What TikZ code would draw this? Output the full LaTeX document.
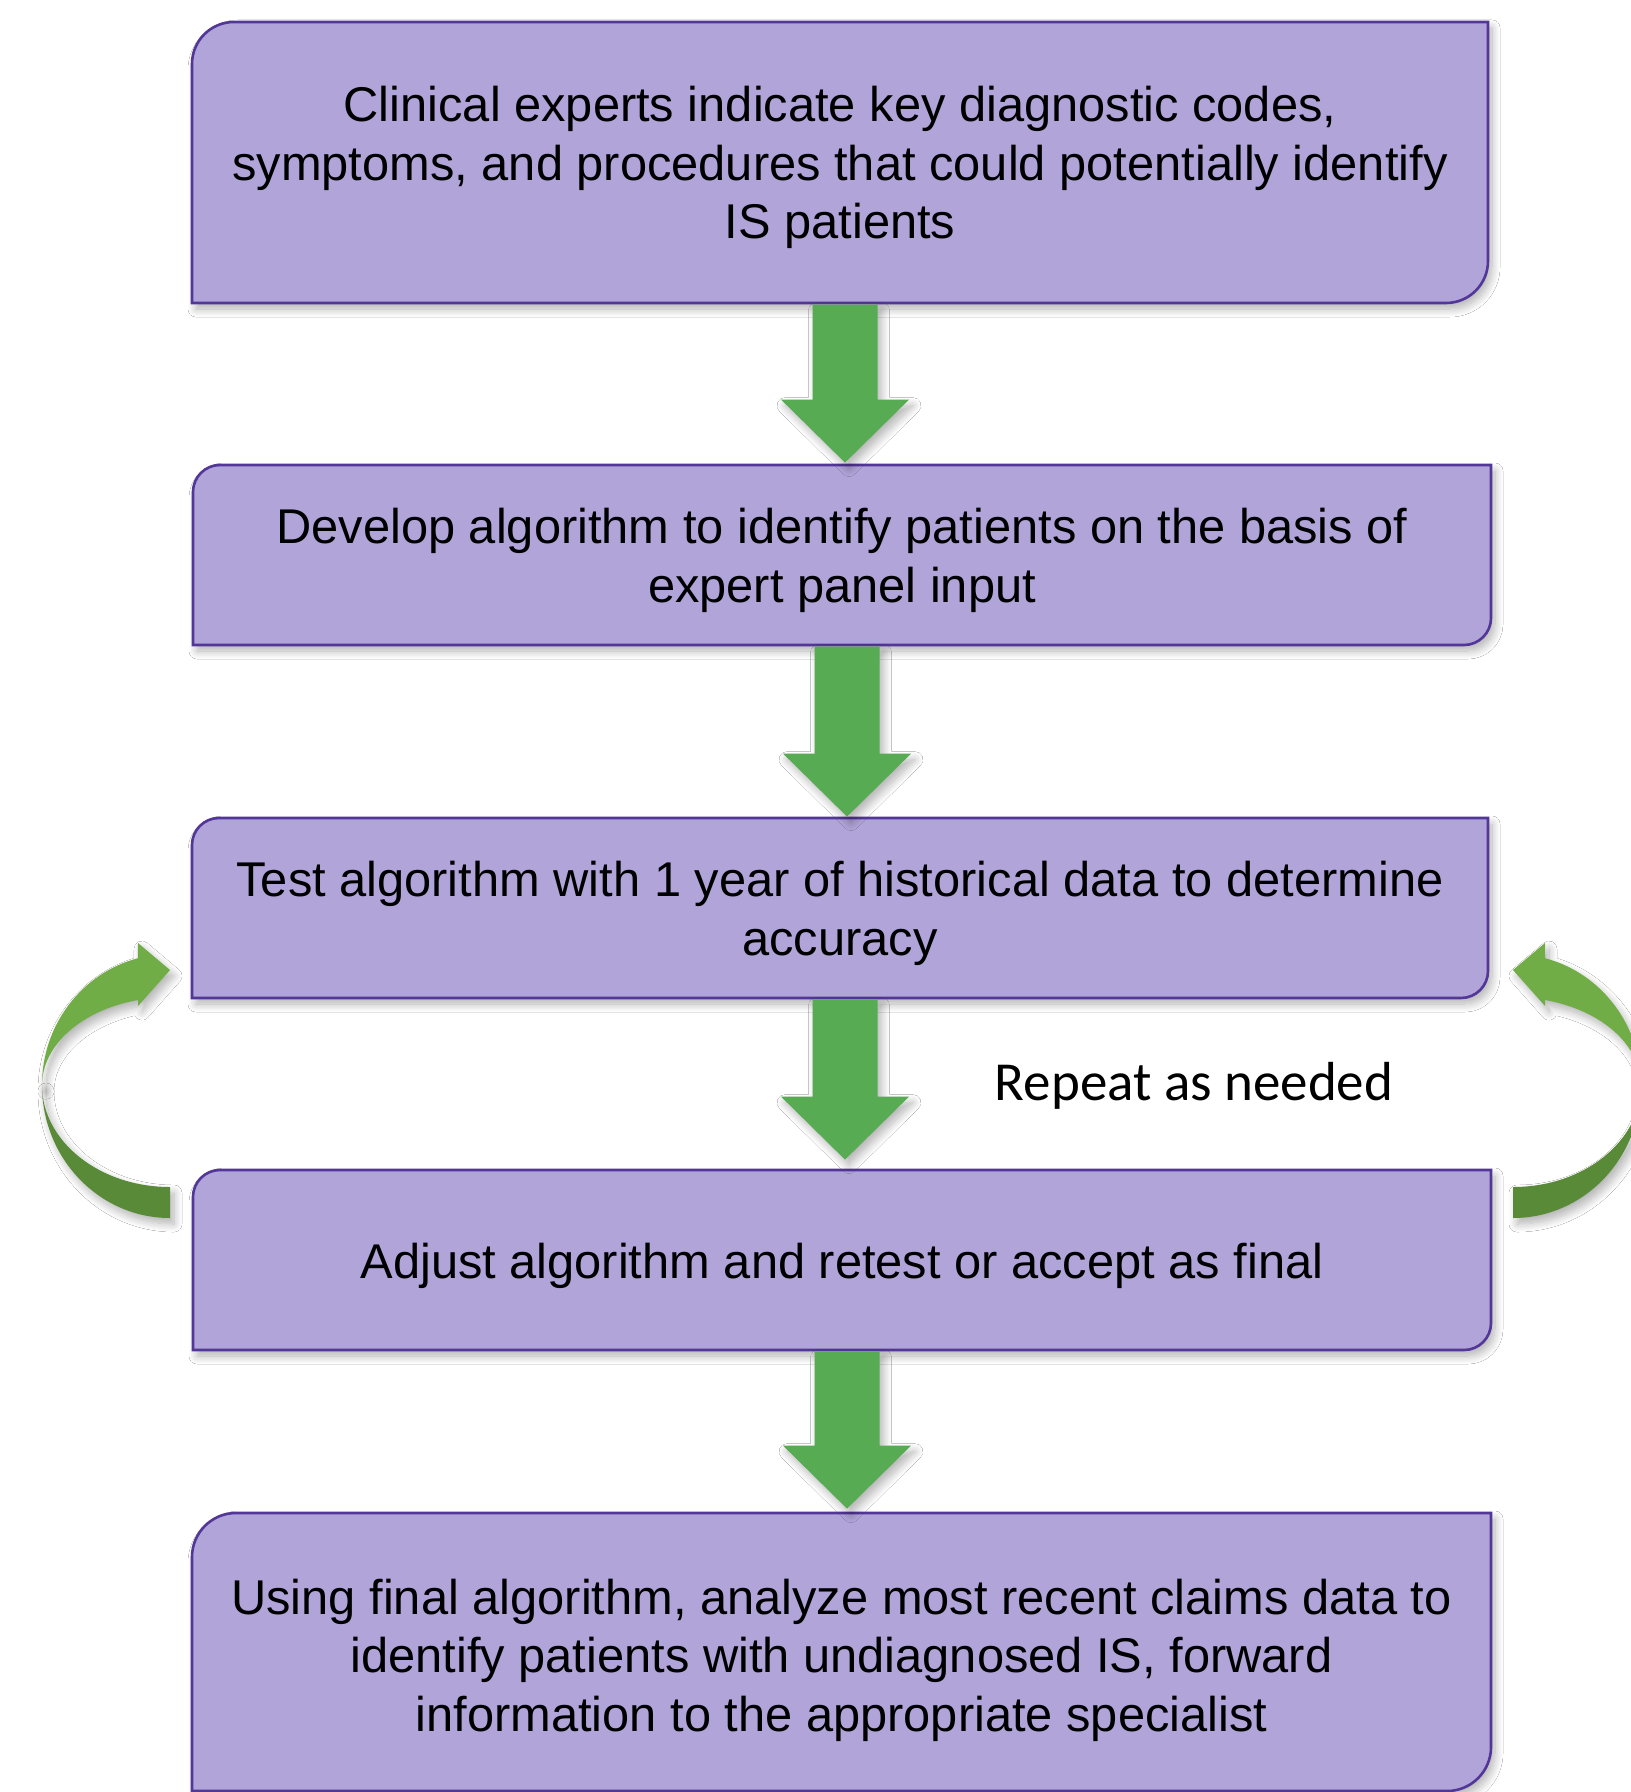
\documentclass[tikz,border=0pt]{standalone}
\usepackage{fontspec}
\setmainfont{Liberation Sans}
\newfontfamily\calibfont{Carlito}
\usetikzlibrary{calc,shadows.blur}
\definecolor{boxfill}{RGB}{177,164,217}
\definecolor{boxline}{RGB}{83,55,152}
\definecolor{arrowgreen}{RGB}{87,171,83}
\definecolor{curvelight}{RGB}{112,173,71}
\definecolor{curvedark}{RGB}{88,138,56}
\tikzset{
  softshadow/.style={blur shadow={shadow xshift=2pt, shadow yshift=-3pt, shadow blur radius=4pt, shadow blur steps=12, shadow opacity=30}},
  boxshape/.style={fill=boxfill, draw=boxline, line width=1.3pt, softshadow},
  boxholder/.style={inner sep=0pt},
  boxtext/.style={inner sep=0pt, align=center, text=black, font=\fontsize{24.4}{29.2}\selectfont},
  blockarrow/.style={fill=arrowgreen, softshadow},
  curvelightstyle/.style={fill=curvelight, softshadow},
  curvedarkstyle/.style={fill=curvedark, softshadow},
  repeattext/.style={inner sep=0pt, anchor=base, text=black, font=\calibfont\fontsize{27.5}{33}\selectfont}
}
% #1 name, #2 x1, #3 y1, #4 x2, #5 y2, #6 corner radius, #7 text shift down (pt), #8 text (pixel units)
\newcommand\flowbox[8]{%
  \pgfmathsetmacro\boxra{#6}\pgfmathsetmacro\boxrb{0.4477*#6}%
  \draw[boxshape] (#2,#5) -- (#2,#3+\boxra) .. controls (#2,#3+\boxrb) and (#2+\boxrb,#3) .. (#2+\boxra,#3) -- (#4,#3) -- (#4,#5-\boxra) .. controls (#4,#5-\boxrb) and (#4-\boxrb,#5) .. (#4-\boxra,#5) -- cycle;
  \node[boxholder, minimum width={(#4-#2)*0.5pt}, minimum height={(#5-#3)*0.5pt}] (#1) at ({(#2+#4)/2},{(#3+#5)/2}) {};
  \node[boxtext] (#1t) at ([yshift=-#7]#1.center) {#8};}
% #1 from node, #2 to node, #3 gap above target
\newcommand\dnarrow[3]{%
  \fill[blockarrow] let \p1=([xshift=2.5pt,yshift=-0.6pt]#1.south), \p2=([yshift=#3]#2.north) in
    (\x1-16.25pt,\y1) -- (\x1-16.25pt,\y2+31.5pt) -- (\x1-32pt,\y2+31.5pt) -- (\x1,\y2)
    -- (\x1+32pt,\y2+31.5pt) -- (\x1+16.25pt,\y2+31.5pt) -- (\x1+16.25pt,\y1) -- cycle;}
\begin{document}
\begin{tikzpicture}[x=0.5pt,y=-0.5pt]
\clip (0,0) rectangle (1631,1792);
\fill[white] (0,0) rectangle (1631,1792);

\flowbox{b1}{192}{22}{1488}{303}{42}{2.5pt}{Clinical experts indicate key diagnostic codes,\\symptoms, and procedures that could potentially identify\\IS patients}
\flowbox{b2}{193}{465}{1491}{645}{27}{2.6pt}{Develop algorithm to identify patients on the basis of\\expert panel input}
\flowbox{b3}{192}{818}{1488}{998}{27}{2.6pt}{Test algorithm with 1 year of historical data to determine\\accuracy}
\flowbox{b4}{193}{1170}{1491}{1350}{27}{2.8pt}{Adjust algorithm and retest or accept as final}
\flowbox{b5}{192}{1513}{1491}{1791}{44}{4pt}{Using final algorithm, analyze most recent claims data to\\identify patients with undiagnosed IS, forward\\information to the appropriate specialist}

\dnarrow{b1}{b2}{1pt}
\dnarrow{b2}{b3}{0.5pt}
\dnarrow{b3}{b4}{5pt}
\dnarrow{b4}{b5}{2pt}

\node[repeattext] (rep) at (1194,1100) {Repeat as needed};

% left curved arrow (from b4 back to b3)
\begin{scope}[shift={(170,1085)}]
  \fill[curvedarkstyle] (-128,0) arc[start angle=180,end angle=90,x radius=128,y radius=133] -- (0,102) arc[start angle=90,end angle=180,x radius=128,y radius=102] -- cycle;
  \fill[curvelightstyle] (-128,0) arc[start angle=180,end angle=255.5,x radius=128,y radius=131] -- (-32,-142) -- (0,-115) -- (-32,-79) -- (-32,-85) arc[start angle=255.5,end angle=180,x radius=128,y radius=88] -- cycle;
\end{scope}
% right curved arrow (mirror)
\begin{scope}[shift={(1513,1085)},xscale=-1]
  \fill[curvedarkstyle] (-128,0) arc[start angle=180,end angle=90,x radius=128,y radius=133] -- (0,102) arc[start angle=90,end angle=180,x radius=128,y radius=102] -- cycle;
  \fill[curvelightstyle] (-128,0) arc[start angle=180,end angle=255.5,x radius=128,y radius=131] -- (-32,-142) -- (0,-115) -- (-32,-79) -- (-32,-85) arc[start angle=255.5,end angle=180,x radius=128,y radius=88] -- cycle;
\end{scope}
\end{tikzpicture}
\end{document}
